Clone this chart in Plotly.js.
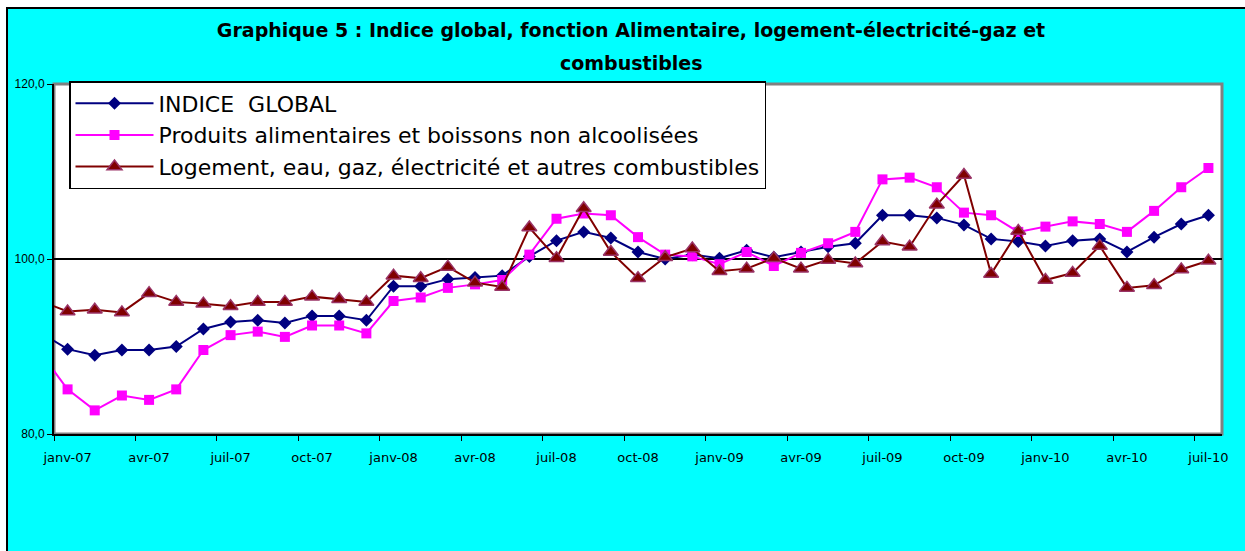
<!DOCTYPE html>
<html>
<head>
<meta charset="utf-8">
<script src="https://cdn.plot.ly/plotly-3.0.1.min.js"></script>
<style>html,body{margin:0;padding:0;background:#fff;}#chart{width:1245px;height:551px;}</style>
</head>
<body>
<div id="chart"></div>
<script>
const months = ['déc-06',
  'janv-07','févr-07','mars-07','avr-07','mai-07','juin-07','juil-07','août-07','sept-07','oct-07','nov-07','déc-07',
  'janv-08','févr-08','mars-08','avr-08','mai-08','juin-08','juil-08','août-08','sept-08','oct-08','nov-08','déc-08',
  'janv-09','févr-09','mars-09','avr-09','mai-09','juin-09','juil-09','août-09','sept-09','oct-09','nov-09','déc-09',
  'janv-10','févr-10','mars-10','avr-10','mai-10','juin-10','juil-10'];

const indiceGlobal = [91.6,
  89.7, 89.0, 89.6, 89.6, 90.0, 92.0, 92.8, 93.0, 92.7, 93.5, 93.5, 93.0,
  96.9, 96.9, 97.7, 97.9, 98.1, 100.3, 102.1, 103.1, 102.4, 100.8, 100.0, 100.5,
  100.1, 101.0, 100.2, 100.8, 101.4, 101.8, 105.0, 105.0, 104.7, 103.9, 102.3, 102.0,
  101.5, 102.1, 102.3, 100.8, 102.5, 104.0, 105.0];

const alimentaires = [89.3,
  85.1, 82.7, 84.4, 83.9, 85.1, 89.6, 91.3, 91.7, 91.1, 92.4, 92.4, 91.5,
  95.2, 95.6, 96.7, 97.1, 97.6, 100.5, 104.6, 105.2, 105.0, 102.5, 100.5, 100.3,
  99.4, 100.8, 99.2, 100.7, 101.8, 103.1, 109.1, 109.3, 108.2, 105.3, 105.0, 103.1,
  103.7, 104.3, 104.0, 103.1, 105.5, 108.2, 110.4];

const logement = [95.2,
  94.0, 94.2, 93.9, 96.1, 95.1, 94.9, 94.6, 95.1, 95.1, 95.7, 95.4, 95.1,
  98.1, 97.8, 99.1, 97.3, 96.8, 103.6, 100.1, 105.8, 100.8, 97.8, 100.2, 101.2,
  98.6, 98.9, 100.1, 98.9, 99.9, 99.5, 102.0, 101.4, 106.2, 109.6, 98.3, 103.2,
  97.6, 98.4, 101.5, 96.7, 97.0, 98.8, 99.8];

const seriesNames = ['INDICE\u00a0\u00a0GLOBAL',
  'Produits alimentaires et boissons non alcoolisées',
  'Logement, eau, gaz, électricité et autres combustibles'];

const tickLabels = ['janv-07','avr-07','juil-07','oct-07','janv-08','avr-08','juil-08','oct-08',
  'janv-09','avr-09','juil-09','oct-09','janv-10','avr-10','juil-10'];

const yTickVals = [80, 100, 120];
const yTickText = ['80,0', '100,0', '120,0'];

const xIdx = months.map((m, i) => i - 1);
const tickVals = tickLabels.map(t => months.indexOf(t) - 1);

const FONT = 'Liberation Sans, Arial, sans-serif';
const WIDE = 'DejaVu Sans, Verdana, sans-serif';

const traces = [
  {x: xIdx, y: indiceGlobal, name: seriesNames[0], type: 'scatter', mode: 'lines+markers',
   line: {color: '#000080', width: 2},
   marker: {symbol: 'diamond', size: 10, color: '#000080'}},
  {x: xIdx, y: alimentaires, name: seriesNames[1], type: 'scatter', mode: 'lines+markers',
   line: {color: '#FF00FF', width: 2},
   marker: {symbol: 'square', size: 10, color: '#FF00FF'}},
  {x: xIdx, y: logement, name: seriesNames[2], type: 'scatter', mode: 'lines+markers',
   line: {color: '#800000', width: 2},
   marker: {symbol: 'triangle-up', size: 13, color: '#800000', line: {color: '#993366', width: 1.5}}}
];

const layout = {
  width: 1245, height: 551,
  margin: {l: 54, r: 23, t: 84, b: 117},
  paper_bgcolor: '#ffffff',
  plot_bgcolor: '#ffffff',
  showlegend: true,
  font: {family: FONT, color: '#000'},
  title: {text: '<b>Graphique 5 : Indice global, fonction Alimentaire, logement-électricité-gaz et</b>',
    x: 631/1245, xanchor: 'center', xref: 'container', y: 1 - 30/551, yanchor: 'middle', yref: 'container',
    font: {family: WIDE, size: 19, color: '#000'}},
  annotations: [{text: '<b>combustibles</b>', xref: 'paper', yref: 'paper',
    x: (631-54)/1168, y: (434-63)/350, xanchor: 'center', yanchor: 'middle', showarrow: false,
    font: {family: WIDE, size: 19, color: '#000'}}],
  xaxis: {
    range: [-0.5, 42.5], showgrid: false, zeroline: false,
    showline: true, linecolor: '#000', linewidth: 2,
    tickmode: 'array', tickvals: tickVals, ticktext: tickLabels, ticks: '',
    tickfont: {family: WIDE, size: 13, color: '#000'},
    ticklabelstandoff: 10,
    minor: {tick0: 2.5, dtick: 3, ticks: 'outside', ticklen: 5, tickcolor: '#000', tickwidth: 1},
    fixedrange: true
  },
  yaxis: {
    range: [80, 120], showgrid: false, zeroline: false,
    showline: true, linecolor: '#000', linewidth: 2,
    tickmode: 'array', tickvals: yTickVals, ticktext: yTickText,
    ticks: 'outside', ticklen: 5, tickcolor: '#000', tickwidth: 1,
    tickfont: {family: FONT, size: 12, color: '#000'},
    fixedrange: true
  },
  legend: {
    x: (69-54)/1168, y: (434-81)/350, xanchor: 'left', yanchor: 'top',
    bgcolor: '#ffffff', bordercolor: '#000', borderwidth: 1.5,
    font: {family: WIDE, size: 22, color: '#000'},
    tracegroupgap: 0, itemwidth: 78
  },
  shapes: [
    {type: 'rect', xref: 'paper', yref: 'paper', layer: 'below',
     x0: (7-54)/1168, x1: (1260-54)/1168, y0: (434-560)/350, y1: (434-8)/350,
     fillcolor: '#00FFFF', line: {color: '#000', width: 2}},
    {type: 'rect', xref: 'paper', yref: 'paper', layer: 'below',
     x0: 0, x1: 1, y0: 0, y1: 1, fillcolor: '#ffffff', line: {color: '#808080', width: 3}},
    {type: 'line', xref: 'paper', yref: 'y', layer: 'below',
     x0: 0, x1: 1, y0: 100, y1: 100, line: {color: '#000', width: 2}}
  ]
};

Plotly.newPlot('chart', traces, layout, {displayModeBar: false, staticPlot: true});
</script>
</body>
</html>
